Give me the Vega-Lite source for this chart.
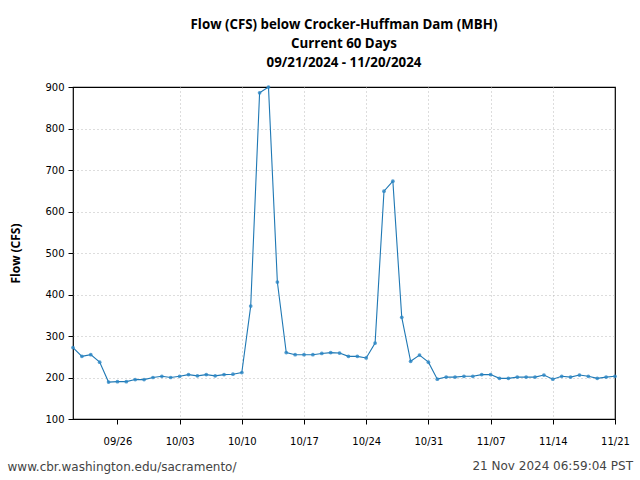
{
  "$schema": "https://vega.github.io/schema/vega-lite/v6.json",
  "autosize": {"type": "none"},
  "width": 542,
  "height": 332,
  "padding": {"left": 73, "top": 87, "right": 25, "bottom": 61},
  "background": "white",
  "title": {
    "text": ["Flow (CFS) below Crocker-Huffman Dam (MBH)", "Current 60 Days", "09/21/2024 - 11/20/2024"],
    "font": "Open Sans",
    "fontWeight": "bold",
    "fontSize": 13.3,
    "lineHeight": 19,
    "color": "black",
    "anchor": "middle",
    "offset": 13
  },
  "config": {
    "view": {"stroke": "black", "strokeWidth": 1.2},
    "axis": {
      "labelFont": "DejaVu Sans",
      "labelFontSize": 10,
      "labelColor": "black",
      "tickColor": "black",
      "domain": false,
      "gridColor": "#bbbbbb",
      "gridDash": [1, 3],
      "gridWidth": 1,
      "gridOpacity": {"condition": {"test": "datum.index === 0 || datum.index === 1", "value": 0}, "value": 1}
    }
  },
  "data": {
    "values": [
      {"date": "2024-09-21T00:00:00", "flow": 272},
      {"date": "2024-09-22T00:00:00", "flow": 251},
      {"date": "2024-09-23T00:00:00", "flow": 255},
      {"date": "2024-09-24T00:00:00", "flow": 237},
      {"date": "2024-09-25T00:00:00", "flow": 189},
      {"date": "2024-09-26T00:00:00", "flow": 190},
      {"date": "2024-09-27T00:00:00", "flow": 190},
      {"date": "2024-09-28T00:00:00", "flow": 195},
      {"date": "2024-09-29T00:00:00", "flow": 195},
      {"date": "2024-09-30T00:00:00", "flow": 200},
      {"date": "2024-10-01T00:00:00", "flow": 203},
      {"date": "2024-10-02T00:00:00", "flow": 200},
      {"date": "2024-10-03T00:00:00", "flow": 203},
      {"date": "2024-10-04T00:00:00", "flow": 207},
      {"date": "2024-10-05T00:00:00", "flow": 204},
      {"date": "2024-10-06T00:00:00", "flow": 207},
      {"date": "2024-10-07T00:00:00", "flow": 204},
      {"date": "2024-10-08T00:00:00", "flow": 207},
      {"date": "2024-10-09T00:00:00", "flow": 208},
      {"date": "2024-10-10T00:00:00", "flow": 212},
      {"date": "2024-10-11T00:00:00", "flow": 372},
      {"date": "2024-10-12T00:00:00", "flow": 886},
      {"date": "2024-10-13T00:00:00", "flow": 900},
      {"date": "2024-10-14T00:00:00", "flow": 430},
      {"date": "2024-10-15T00:00:00", "flow": 260},
      {"date": "2024-10-16T00:00:00", "flow": 255},
      {"date": "2024-10-17T00:00:00", "flow": 255},
      {"date": "2024-10-18T00:00:00", "flow": 255},
      {"date": "2024-10-19T00:00:00", "flow": 258},
      {"date": "2024-10-20T00:00:00", "flow": 260},
      {"date": "2024-10-21T00:00:00", "flow": 259},
      {"date": "2024-10-22T00:00:00", "flow": 251},
      {"date": "2024-10-23T00:00:00", "flow": 251},
      {"date": "2024-10-24T00:00:00", "flow": 247},
      {"date": "2024-10-25T00:00:00", "flow": 283},
      {"date": "2024-10-26T00:00:00", "flow": 649},
      {"date": "2024-10-27T00:00:00", "flow": 673},
      {"date": "2024-10-28T00:00:00", "flow": 345},
      {"date": "2024-10-29T00:00:00", "flow": 239},
      {"date": "2024-10-30T00:00:00", "flow": 254},
      {"date": "2024-10-31T00:00:00", "flow": 237},
      {"date": "2024-11-01T00:00:00", "flow": 196},
      {"date": "2024-11-02T00:00:00", "flow": 201},
      {"date": "2024-11-03T00:00:00", "flow": 201},
      {"date": "2024-11-04T00:00:00", "flow": 203},
      {"date": "2024-11-05T00:00:00", "flow": 203},
      {"date": "2024-11-06T00:00:00", "flow": 207},
      {"date": "2024-11-07T00:00:00", "flow": 207},
      {"date": "2024-11-08T00:00:00", "flow": 198},
      {"date": "2024-11-09T00:00:00", "flow": 198},
      {"date": "2024-11-10T00:00:00", "flow": 201},
      {"date": "2024-11-11T00:00:00", "flow": 201},
      {"date": "2024-11-12T00:00:00", "flow": 201},
      {"date": "2024-11-13T00:00:00", "flow": 206},
      {"date": "2024-11-14T00:00:00", "flow": 196},
      {"date": "2024-11-15T00:00:00", "flow": 203},
      {"date": "2024-11-16T00:00:00", "flow": 201},
      {"date": "2024-11-17T00:00:00", "flow": 206},
      {"date": "2024-11-18T00:00:00", "flow": 203},
      {"date": "2024-11-19T00:00:00", "flow": 198},
      {"date": "2024-11-20T00:00:00", "flow": 201},
      {"date": "2024-11-21T00:00:00", "flow": 203}
    ]
  },
  "layer": [
    {
      "mark": {"type": "line", "color": "#1f78b4", "strokeWidth": 1.1},
      "encoding": {
        "x": {
          "field": "date",
          "type": "temporal",
          "scale": {
            "domain": [
              {"year": 2024, "month": 9, "date": 21},
              {"year": 2024, "month": 11, "date": 21}
            ]
          },
          "axis": {
            "values": [
              {"year": 2024, "month": 9, "date": 26},
              {"year": 2024, "month": 10, "date": 3},
              {"year": 2024, "month": 10, "date": 10},
              {"year": 2024, "month": 10, "date": 17},
              {"year": 2024, "month": 10, "date": 24},
              {"year": 2024, "month": 10, "date": 31},
              {"year": 2024, "month": 11, "date": 7},
              {"year": 2024, "month": 11, "date": 14},
              {"year": 2024, "month": 11, "date": 21}
            ],
            "format": "%m/%d",
            "tickSize": 5,
            "labelPadding": 12,
            "labelOverlap": false,
            "labelFlush": false,
            "title": "www.cbr.washington.edu/sacramento/",
            "titleFont": "DejaVu Sans",
            "titleFontSize": 12,
            "titleFontWeight": "normal",
            "titleColor": "#444444",
            "titleAnchor": "start",
            "titleAlign": "left",
            "titleBaseline": "alphabetic",
            "titleX": -66,
            "titleY": 51
          }
        },
        "y": {
          "field": "flow",
          "type": "quantitative",
          "scale": {"domain": [100, 900], "nice": false, "zero": false},
          "axis": {
            "values": [100, 200, 300, 400, 500, 600, 700, 800, 900],
            "tickSize": 5,
            "labelPadding": 4,
            "title": "Flow (CFS)",
            "titleFont": "Open Sans",
            "titleFontSize": 12,
            "titleFontWeight": "bold",
            "titleColor": "black",
            "titlePadding": 22
          }
        }
      }
    },
    {
      "mark": {"type": "point", "filled": true, "color": "#2b86c4", "size": 14, "opacity": 0.8},
      "encoding": {
        "x": {"field": "date", "type": "temporal"},
        "y": {"field": "flow", "type": "quantitative"}
      }
    },
    {
      "data": {"values": [{"when": "2024-11-21T00:00:00", "level": 100, "stamp": "21 Nov 2024 06:59:04 PST"}]},
      "mark": {
        "type": "text",
        "font": "DejaVu Sans",
        "fontSize": 12,
        "color": "#444444",
        "align": "right",
        "baseline": "alphabetic",
        "dx": 18,
        "dy": 51
      },
      "encoding": {
        "x": {"field": "when", "type": "temporal"},
        "y": {"field": "level", "type": "quantitative"},
        "text": {"field": "stamp"}
      }
    }
  ]
}
